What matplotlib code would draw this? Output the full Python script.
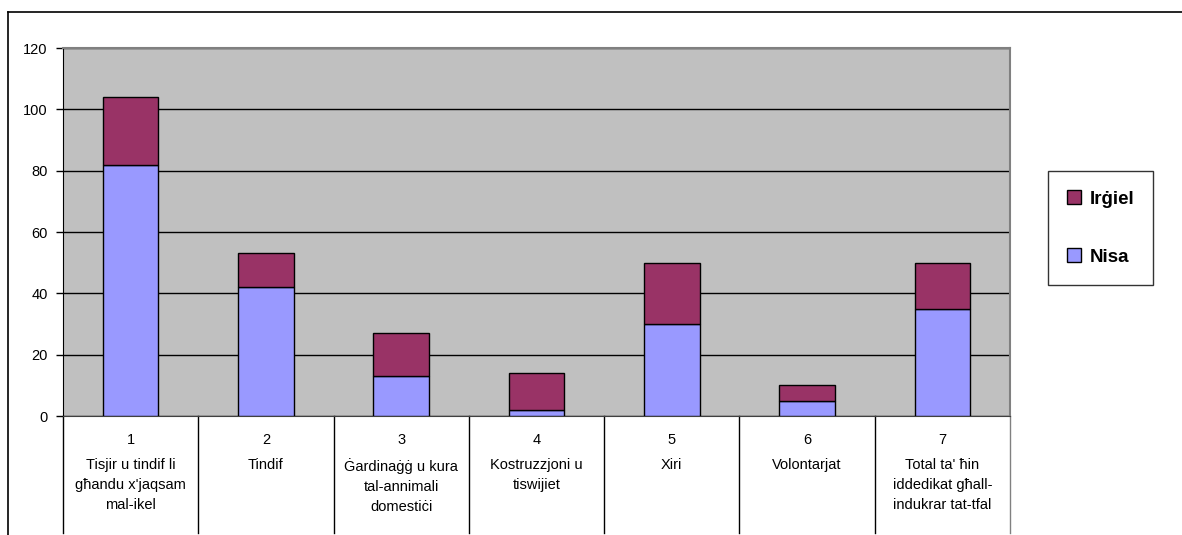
import matplotlib.pyplot as plt
from matplotlib.lines import Line2D

plt.rcParams['font.family'] = ['Liberation Sans', 'DejaVu Sans']

numbers = ['1', '2', '3', '4', '5', '6', '7']
labels = ['Tisjir u tindif li\ngħandu x\'jaqsam\nmal-ikel',
          'Tindif',
          'Ġardinaġġ u kura\ntal-annimali\ndomestiċi',
          'Kostruzzjoni u\ntiswijiet',
          'Xiri',
          'Volontarjat',
          'Total ta\' ħin\niddedikat għall-\nindukrar tat-tfal']
nisa = [82, 42, 13, 2, 30, 5, 35]
irgiel = [22, 11, 14, 12, 20, 5, 15]

W, H = 1182, 535
fig = plt.figure(figsize=(W / 100, H / 100), dpi=100)

# outer chart border (left + top)
fig.add_artist(Line2D([8 / W, 8 / W], [0, 1 - 12 / H], color='black', lw=1.2))
fig.add_artist(Line2D([8 / W, 1], [1 - 12 / H, 1 - 12 / H], color='black', lw=1.2))

x0, x1, y0, y1 = 63, 1010, 416, 48
ax = fig.add_axes([x0 / W, 1 - y0 / H, (x1 - x0) / W, (y0 - y1) / H])
ax.set_facecolor('#C0C0C0')

pos = [i + 0.5 for i in range(len(nisa))]
ax.bar(pos, nisa, width=0.41, color='#9999FF', edgecolor='black', lw=1, zorder=3, label='Nisa')
ax.bar(pos, irgiel, bottom=nisa, width=0.41, color='#993366', edgecolor='black', lw=1, zorder=3, label='Irġiel')

ax.set_xlim(0, 7)
ax.set_ylim(0, 120)
ax.set_yticks(range(0, 121, 20))
ax.yaxis.grid(True, color='black', lw=1)
ax.set_axisbelow(True)
ax.tick_params(axis='y', direction='out', length=5, width=1, labelsize=10.5, pad=6)
ax.set_xticks([])

ax.spines['left'].set_color('black')
ax.spines['bottom'].set_color('#404040')
ax.spines['top'].set_color('#808080')
ax.spines['right'].set_color('#808080')
ax.spines['top'].set_linewidth(1.5)
ax.spines['right'].set_linewidth(1.5)

# category table below the axis
bottom = -(H - 2 - y0) / (y0 - y1)
for i in range(len(nisa) + 1):
    c = '#808080' if i == len(nisa) else 'black'
    ax.add_line(Line2D([i / 7, i / 7], [0, bottom], transform=ax.transAxes,
                       color=c, lw=1, clip_on=False))
for i, (n, lab) in enumerate(zip(numbers, labels)):
    ax.text(pos[i], -(440 - y0) / (y0 - y1), n, transform=ax.get_xaxis_transform(),
            ha='center', va='center', fontsize=10.5)
    ax.text(pos[i], -(458 - y0) / (y0 - y1), lab, transform=ax.get_xaxis_transform(),
            ha='center', va='top', fontsize=10.5, linespacing=1.55)

handles, hl = ax.get_legend_handles_labels()
leg = fig.legend(handles[::-1], hl[::-1], loc='center',
                 bbox_to_anchor=((1042 + 1159) / 2 / W, 1 - (172 + 284) / 2 / H),
                 frameon=True, fancybox=False, edgecolor='black', handlelength=0.75,
                 handleheight=0.75, labelspacing=2.15, borderpad=1.03, handletextpad=0.45,
                 prop={'weight': 'bold', 'size': 13.5})
leg.get_frame().set_linewidth(1)
for h in leg.legend_handles:
    h.set_edgecolor('black')

fig.savefig('out.png', dpi=100, facecolor='white')
